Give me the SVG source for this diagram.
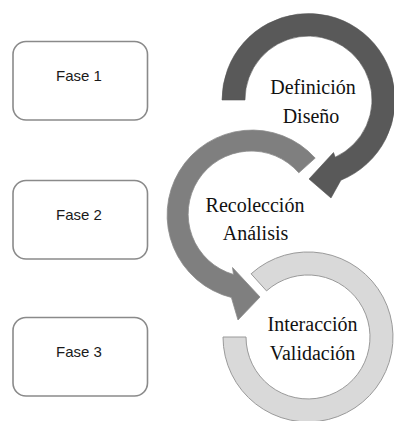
<svg xmlns="http://www.w3.org/2000/svg" width="394" height="421" viewBox="0 0 394 421">
<style>
.box{fill:#ffffff;stroke:#8a8a8a;stroke-width:1.6}
.lbl{font-family:"Liberation Sans",Arial,sans-serif;font-size:15px;fill:#1a1a1a;text-anchor:middle}
.ser{font-family:"Liberation Serif","Times New Roman",serif;font-size:20px;fill:#111111;text-anchor:middle}
.a1{fill:#595959;stroke:#555555;stroke-width:0.6}
.a2{fill:#7f7f7f;stroke:#8c8c8c;stroke-width:0.8}
.a3{fill:#d9d9d9;stroke:#9a9a9a;stroke-width:1}
</style>
<rect width="394" height="421" fill="#ffffff"/>
<g id="fase1"><rect class="box" x="13" y="41.5" width="134.5" height="78.5" rx="13"/><text class="lbl" x="79" y="81">Fase 1</text></g>
<g id="fase2"><rect class="box" x="13" y="180.5" width="134.5" height="78.5" rx="13"/><text class="lbl" x="79" y="220">Fase 2</text></g>
<g id="fase3"><rect class="box" x="13" y="317.5" width="134.5" height="78.5" rx="13"/><text class="lbl" x="79" y="357">Fase 3</text></g>
<g id="ciclo3">
<path class="a3" d="M251.1 273.8 A85 85 0 1 1 223 337 L246 337 A62 62 0 1 0 266.5 290.9 Z"/>
<text class="ser" x="312.5" y="330.5">Interacción</text>
<text class="ser" x="312.5" y="360">Validación</text>
</g>
<g id="ciclo2">
<path class="a2" d="M315.2 158.1 A85 85 0 1 0 231.4 297.5 L238 320 L260 297 L232.5 267.5 L233.5 274.5 A63 63 0 1 1 298.8 172.8 Z"/>
<text class="ser" x="255" y="211.5">Recolección</text>
<text class="ser" x="255.5" y="240">Análisis</text>
</g>
<g id="ciclo1">
<path class="a1" d="M222 100 A86.5 86.5 0 1 1 340.9 180.2 L331 198 L309 179 L333.5 152.5 L335.2 157.2 A63.5 63.5 0 1 0 245 100 Z"/>
<text class="ser" x="313" y="93.5">Definición</text>
<text class="ser" x="311" y="123">Diseño</text>
</g>
<g id="connectors"></g>
</svg>
